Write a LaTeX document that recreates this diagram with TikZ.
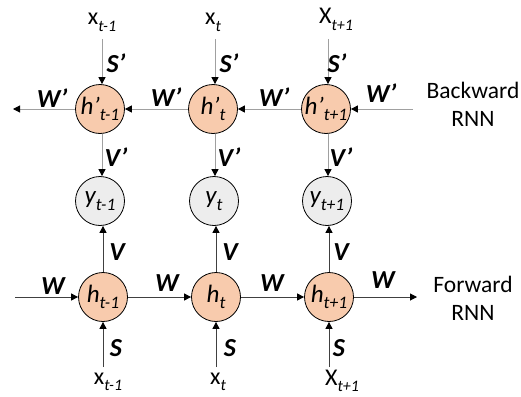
\documentclass[tikz,border=0pt]{standalone}
\usepackage{fontspec}
\setmainfont{Carlito}
\usetikzlibrary{arrows.meta}
\definecolor{hfill}{HTML}{F8CBAD}
\definecolor{yfill}{HTML}{EDEDED}
\definecolor{bline}{HTML}{A0A0A0}
\definecolor{fline}{HTML}{404040}
\newcommand{\lsub}[1]{\raisebox{-0.28em}{\fontsize{16}{16}\selectfont\itshape #1}}
\newcommand{\nsub}[1]{\raisebox{-0.26em}{\fontsize{17.5}{17.5}\selectfont\itshape #1}}
\begin{document}
\begin{tikzpicture}[x=1pt,y=-1pt,
  hnode/.style={circle,draw=black,line width=0.8pt,fill=hfill,minimum size=49pt,inner sep=0pt,font=\fontsize{25}{25}\selectfont\itshape},
  ynode/.style={hnode,fill=yfill},
  wlab/.style={font=\fontsize{26}{26}\selectfont\bfseries\itshape,inner sep=0pt},
  xlab/.style={font=\fontsize{24}{24}\selectfont,inner sep=0pt,anchor=base},
  side/.style={font=\fontsize{23.5}{28}\selectfont,align=center,inner sep=0pt},
  barrow/.style={draw=bline,line width=1pt,-{Triangle[length=7pt,width=7pt,color=black]}},
  farrow/.style={draw=fline,line width=1pt,-{Triangle[length=7pt,width=7pt,color=black]}}
]
\useasboundingbox (0,0) rectangle (521,396);

% nodes
\node[hnode] (hb1) at (100,109) {h’\nsub{t-1}};
\node[hnode] (hb2) at (213,109) {h’\nsub{t}};
\node[hnode] (hb3) at (326,109) {h’\nsub{t+1}};
\node[ynode] (y1) at (100,201) {y\nsub{t-1}};
\node[ynode] (y2) at (214,201) {y\nsub{t}};
\node[ynode] (y3) at (327,201) {y\nsub{t+1}};
\node[hnode] (hf1) at (103,297) {h\nsub{t-1}};
\node[hnode] (hf2) at (216,297) {h\nsub{t}};
\node[hnode] (hf3) at (329,297) {h\nsub{t+1}};

% input labels
\node[xlab] (xt1) at (102,25) {x\lsub{t-1}};
\node[xlab] (xt2) at (213,25) {x\lsub{t}};
\node[xlab] (xt3) at (336,24) {X\lsub{t+1}};
\node[xlab] (xb1) at (108,384) {x\lsub{t-1}};
\node[xlab] (xb2) at (218,384) {x\lsub{t}};
\node[xlab] (xb3) at (342,385) {X\lsub{t+1}};

% free ends
\coordinate (st1) at (102,39);
\coordinate (st2) at (215,39);
\coordinate (st3) at (328,39);
\coordinate (sb1) at (103,367);
\coordinate (sb2) at (216,367);
\coordinate (sb3) at (329,367);
\coordinate (bl) at (13,109);
\coordinate (br) at (413,109);
\coordinate (fl) at (15,297);
\coordinate (fr) at (417,297);

% backward connectors
\draw[barrow] (st1) -- (st1 |- hb1.north);
\draw[barrow] (st2) -- (st2 |- hb2.north);
\draw[barrow] (st3) -- (st3 |- hb3.north);
\draw[barrow] (hb1.west) -- (bl);
\draw[barrow] (hb2) -- (hb1);
\draw[barrow] (hb3) -- (hb2);
\draw[barrow] (br) -- (hb3);
\draw[barrow] (st1 |- hb1.south) -- (st1 |- y1.north);
\draw[barrow] (st2 |- hb2.south) -- (st2 |- y2.north);
\draw[barrow] (st3 |- hb3.south) -- (st3 |- y3.north);

% forward connectors
\draw[farrow] (fl) -- (hf1);
\draw[farrow] (hf1) -- (hf2);
\draw[farrow] (hf2) -- (hf3);
\draw[farrow] (hf3.east) -- (fr);
\draw[farrow] (sb1 |- hf1.north) -- (sb1 |- y1.south);
\draw[farrow] (sb2 |- hf2.north) -- (sb2 |- y2.south);
\draw[farrow] (sb3 |- hf3.north) -- (sb3 |- y3.south);
\draw[farrow] (sb1) -- (hf1);
\draw[farrow] (sb2) -- (hf2);
\draw[farrow] (sb3) -- (hf3);

% weight labels
\node[wlab] (ls1) at (116,63) {S’};
\node[wlab] (ls2) at (229,63) {S’};
\node[wlab] (ls3) at (337,63) {S’};
\node[wlab] (lw1) at (52,98) {W’};
\node[wlab] (lw2) at (166,97) {W’};
\node[wlab] (lw3) at (274,97) {W’};
\node[wlab] (lw4) at (381,93) {W’};
\node[wlab] (lv1) at (116,157) {V’};
\node[wlab] (lv2) at (229,157) {V’};
\node[wlab] (lv3) at (341,157) {V’};
\node[wlab] (lf1) at (117,252) {V};
\node[wlab] (lf2) at (230,252) {V};
\node[wlab] (lf3) at (341,252) {V};
\node[wlab] (lW1) at (53,286) {W};
\node[wlab] (lW2) at (167,283) {W};
\node[wlab] (lW3) at (272,283) {W};
\node[wlab] (lW4) at (383,280) {W};
\node[wlab] (lS1) at (116,348) {S};
\node[wlab] (lS2) at (230,348) {S};
\node[wlab] (lS3) at (339,348) {S};

% side texts
\node[side] (bk) at (473,104) {Backward\\RNN};
\node[side] (fw) at (473,298) {Forward\\RNN};
\end{tikzpicture}
\end{document}
